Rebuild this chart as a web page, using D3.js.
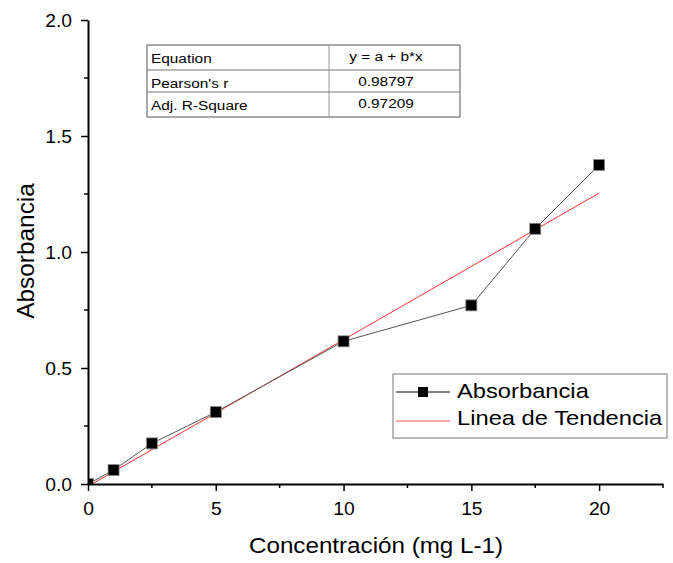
<!DOCTYPE html>
<html>
<head>
<meta charset="utf-8">
<script src="https://cdn.jsdelivr.net/npm/d3@7"></script>
<style>
  body { margin: 0; background: #fff; }
  text { font-family: "Liberation Sans", Arial, sans-serif; fill: #000; }
</style>
</head>
<body>
<div class="svg-container"></div>
<script>
var conc = [0, 1, 2.5, 5, 10, 15, 17.5, 20];
var absorb = [0.0, 0.06, 0.175, 0.31, 0.615, 0.77, 1.10, 1.375];
var fitA = -0.01, fitB = 0.0632;
var xTicks = [0, 5, 10, 15, 20];
var yTicks = [0.0, 0.5, 1.0, 1.5, 2.0];
var tableRows = [["Equation", "y = a + b*x"], ["Pearson's r", "0.98797"], ["Adj. R-Square", "0.97209"]];
var legendLabels = ["Absorbancia", "Linea de Tendencia"];

var W = 673, H = 563;
var mLeft = 88, mRight = 663, mTop = 20, mBottom = 484;

var svg = d3.select('.svg-container').append('svg')
  .attr('width', W).attr('height', H);

// text that is a little wider than the font, like the original export
function stext(g, x, y, str, size, sx, anchor) {
  return g.append('text')
    .attr('transform', 'translate(' + x + ',' + y + ') scale(' + sx + ',1)')
    .attr('text-anchor', anchor || 'start')
    .style('font-size', size + 'px')
    .text(str);
}

var x = d3.scaleLinear().domain([0, 22.5]).range([mLeft, mRight]);
var y = d3.scaleLinear().domain([0, 2.0]).range([mBottom, mTop]);

svg.append('clipPath').attr('id', 'plot-clip')
  .append('rect').attr('x', mLeft).attr('y', mTop)
  .attr('width', mRight - mLeft).attr('height', mBottom - mTop);

var plot = svg.append('g').attr('clip-path', 'url(#plot-clip)');

// trend line
plot.append('line')
  .attr('x1', x(0)).attr('y1', y(fitA))
  .attr('x2', x(20)).attr('y2', y(fitA + fitB * 20))
  .attr('stroke', '#f33').attr('stroke-width', 1);

var pts = conc.map(function(c, i) { return [c, absorb[i]]; });
plot.append('path')
  .datum(pts)
  .attr('d', d3.line().x(function(d) { return x(d[0]); }).y(function(d) { return y(d[1]); }))
  .attr('fill', 'none').attr('stroke', '#555').attr('stroke-width', 1);

plot.selectAll('rect.pt')
  .data(pts).enter()
  .append('rect').attr('class', 'pt')
  .attr('x', function(d) { return x(d[0]) - 5.5; })
  .attr('y', function(d) { return y(d[1]) - 5.5; })
  .attr('width', 11).attr('height', 11)
  .attr('fill', '#000').attr('stroke', '#888').attr('stroke-width', 0.8);

// axes
var xAxis = svg.append('g').attr('transform', 'translate(0,' + mBottom + ')');
xAxis.call(d3.axisBottom(x).tickValues(xTicks).tickSize(7).tickSizeOuter(0).tickFormat(d3.format('d')));
xAxis.selectAll('line.minor')
  .data([2.5, 7.5, 12.5, 17.5, 22.5]).enter()
  .append('line').attr('class', 'minor')
  .attr('x1', function(d) { return x(d); }).attr('x2', function(d) { return x(d); })
  .attr('y1', 0).attr('y2', 4).attr('stroke', '#000').attr('stroke-width', 1.5);

var yAxis = svg.append('g').attr('transform', 'translate(' + mLeft + ',0)');
yAxis.call(d3.axisLeft(y).tickValues(yTicks).tickSize(7).tickSizeOuter(0).tickFormat(d3.format('.1f')));
yAxis.selectAll('line.minor')
  .data([0.25, 0.75, 1.25, 1.75]).enter()
  .append('line').attr('class', 'minor')
  .attr('y1', function(d) { return y(d); }).attr('y2', function(d) { return y(d); })
  .attr('x1', 0).attr('x2', -4).attr('stroke', '#000').attr('stroke-width', 1.5);

[xAxis, yAxis].forEach(function(a) {
  a.select('.domain').attr('stroke', '#000').attr('stroke-width', 2);
  a.selectAll('.tick line').attr('stroke', '#000').attr('stroke-width', 1.5);
  a.selectAll('.tick text').style('font-size', '18px').attr('fill', '#000')
    .style('font-family', '"Liberation Sans", Arial, sans-serif');
});
xAxis.selectAll('.tick text').attr('y', 31).attr('dy', null)
  .attr('transform', 'scale(1.07,1)');
yAxis.selectAll('.tick text').attr('x', -16 / 1.07).attr('dy', '0.36em')
  .attr('transform', 'scale(1.07,1)');

stext(svg, 376, 553, 'Concentración (mg L-1)', 22, 1.1, 'middle');

svg.append('text')
  .attr('transform', 'translate(34,251) rotate(-90) scale(1.11,1.08)')
  .attr('text-anchor', 'middle').style('font-size', '22px')
  .text('Absorbancia');

// stats table
var tX = 147, tY = 45, tW = 313, colX = 329;
var rowY = [45, 70, 92, 117];
var table = svg.append('g');
table.append('rect').attr('x', tX).attr('y', tY).attr('width', tW).attr('height', rowY[3] - tY)
  .attr('fill', '#fff').attr('stroke', '#555').attr('stroke-width', 1);
table.append('line').attr('x1', colX).attr('x2', colX).attr('y1', tY).attr('y2', rowY[3])
  .attr('stroke', '#999');
[1, 2].forEach(function(i) {
  table.append('line').attr('x1', tX).attr('x2', tX + tW)
    .attr('y1', rowY[i]).attr('y2', rowY[i]).attr('stroke', '#777');
});
tableRows.forEach(function(r, i) {
  stext(table, tX + 4, rowY[i] + 18, r[0], 13.5, 1.14);
  stext(table, 386, rowY[i] + 16, r[1], 13.5, 1.14, 'middle');
});

// legend
var lg = svg.append('g');
lg.append('rect').attr('x', 393).attr('y', 374).attr('width', 274).attr('height', 64)
  .attr('fill', '#fff').attr('stroke', '#777').attr('stroke-width', 1);
lg.append('line').attr('x1', 396).attr('x2', 450).attr('y1', 392).attr('y2', 392)
  .attr('stroke', '#000').attr('stroke-width', 1);
lg.append('rect').attr('x', 418).attr('y', 387).attr('width', 10).attr('height', 10).attr('fill', '#000');
lg.append('line').attr('x1', 396).attr('x2', 450).attr('y1', 421).attr('y2', 421)
  .attr('stroke', '#f55').attr('stroke-width', 1);
legendLabels.forEach(function(t, i) {
  stext(lg, 457, 398 + i * 27, t, 21, 1.13);
});
</script>
</body>
</html>
